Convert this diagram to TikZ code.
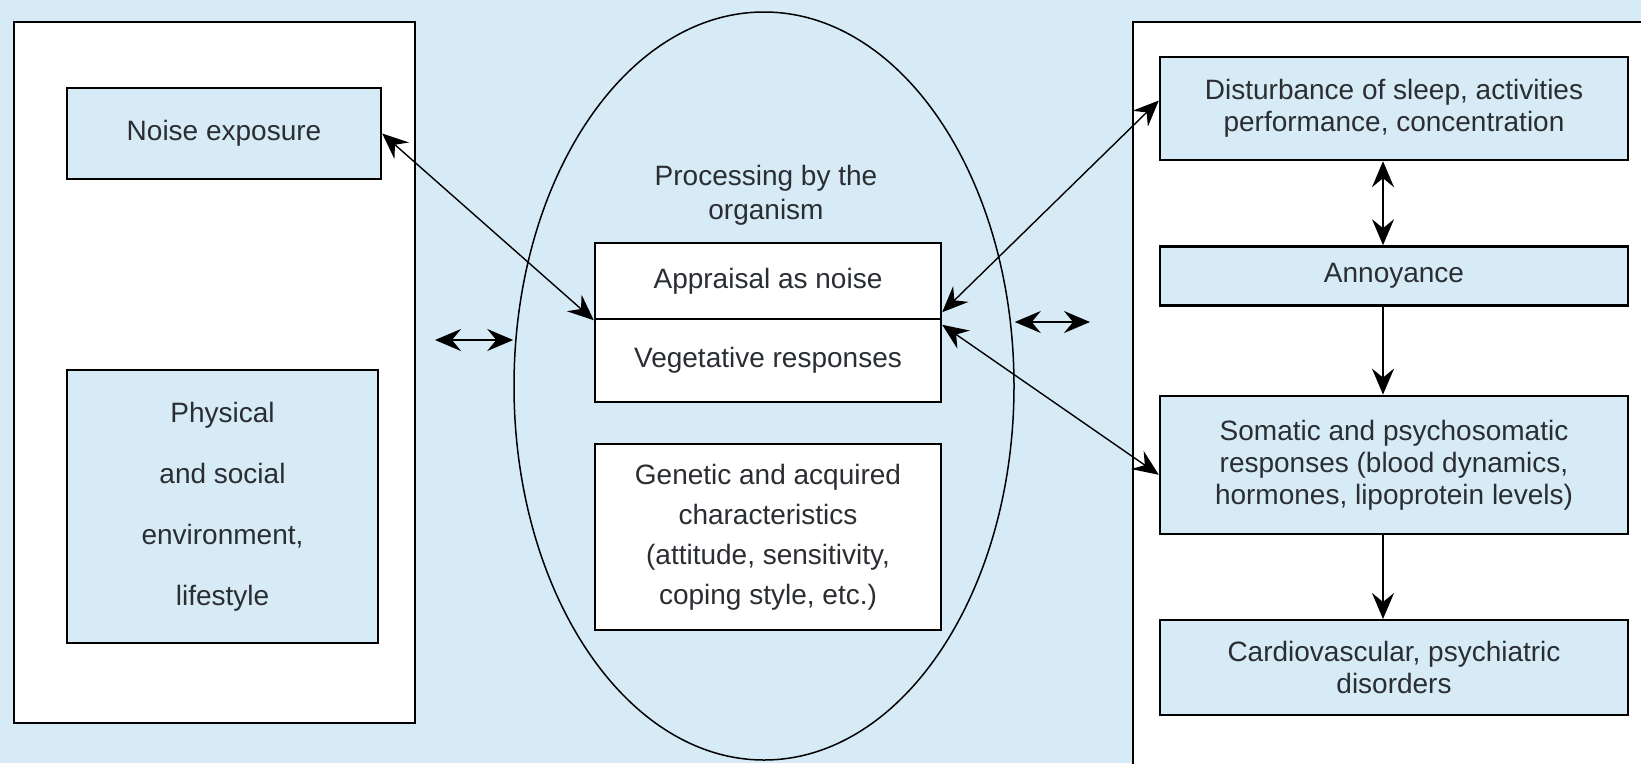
\documentclass[tikz,border=0pt]{standalone}
\usepackage{fontspec}
\setmainfont{Liberation Sans}
\usetikzlibrary{positioning, shapes.geometric, arrows.meta}
\definecolor{skyblue}{RGB}{214,235,246}
\definecolor{inkgray}{RGB}{42,46,50}

\begin{document}
\begin{tikzpicture}[x=1pt, y=-1pt, node distance=84pt, line width=2pt, >={Stealth[length=26pt, width=22pt, inset=9pt]}]
	\tikzstyle{panel} = [draw, fill=white, line width=2.4pt];
	\tikzstyle{bluebox} = [draw, fill=skyblue, line width=2.4pt, text=inkgray, align=center, font=\fontsize{28}{32}\selectfont];
	\tikzstyle{whitebox} = [draw, fill=white, line width=2.4pt, text=inkgray, align=center, font=\fontsize{28}{32}\selectfont, minimum width=346pt];
	\tikzstyle{link} = [<->, line width=1.4pt];
	
	\useasboundingbox (0,0) rectangle (1641,763);
	\fill[skyblue] (0,0) rectangle (1641,763);
	
	% environment
	\node[panel, minimum width=401pt, minimum height=701pt] (envpanel) at (214.5,372.5) {};
	\node[bluebox, minimum width=314pt, minimum height=91pt] (noise) at (224,133.5) {Noise exposure};
	\node[bluebox, minimum width=311pt, minimum height=273pt, font=\fontsize{28}{61}\selectfont] (phys) at (222.5,506.5) {Physical\\and social\\environment,\\lifestyle};
	
	% organism
	\node[draw, ellipse, line width=1.5pt, minimum width=500pt, minimum height=748pt] (org) at (764,386) {};
	\node[text=inkgray, align=center, font=\fontsize{28}{34}\selectfont] (proc) at (766,195) {Processing by the\\organism};
	\node[whitebox, minimum height=76pt] (appr) at (768,281) {Appraisal as noise};
	\node[whitebox, minimum height=83pt] (veg) at (768,360.5) {Vegetative responses};
	\node[whitebox, minimum height=186pt, font=\fontsize{28}{40}\selectfont] (gene) at (768,537) {Genetic and acquired\\characteristics\\(attitude, sensitivity,\\coping style, etc.)};
	
	% effects
	\node[panel, minimum width=520pt, minimum height=760pt] (effpanel) at (1393,402) {};
	\node[bluebox, minimum width=468pt, minimum height=103pt] (dist) at (1394,108.5) {Disturbance of sleep, activities\\performance, concentration};
	\node[bluebox, minimum width=468pt, minimum height=59pt, below = of dist] (annoy) {Annoyance};
	\node[bluebox, minimum width=468pt, minimum height=138pt, below = 88pt of annoy] (soma) {Somatic and psychosomatic\\responses (blood dynamics,\\hormones, lipoprotein levels)};
	\node[bluebox, minimum width=468pt, minimum height=95pt, below = of soma] (cardio) {Cardiovascular, psychiatric\\disorders};
	
	\coordinate (envgap) at (435,340);
	\coordinate (effgap) at (1090,322);
	\draw[<->] (envgap) -- (org.west |- envgap);
	\draw[<->] (org.east |- effgap) -- (effgap);
	
	\draw[link] (noise.east) -- (appr.south west);
	\draw[link] ([yshift=8pt]dist.west) -- ([yshift=8pt]appr.south east);
	\draw[link] ([yshift=-10pt]soma.west) -- ([yshift=-7pt]veg.north east);
	
	\draw[<->] ([xshift=-11pt]dist.south) -- ([xshift=-11pt]annoy.north);
	\draw[->] ([xshift=-11pt]annoy.south) -- ([xshift=-11pt]soma.north);
	\draw[->] ([xshift=-11pt]soma.south) -- ([xshift=-11pt]cardio.north);
	
\end{tikzpicture}
\end{document}
